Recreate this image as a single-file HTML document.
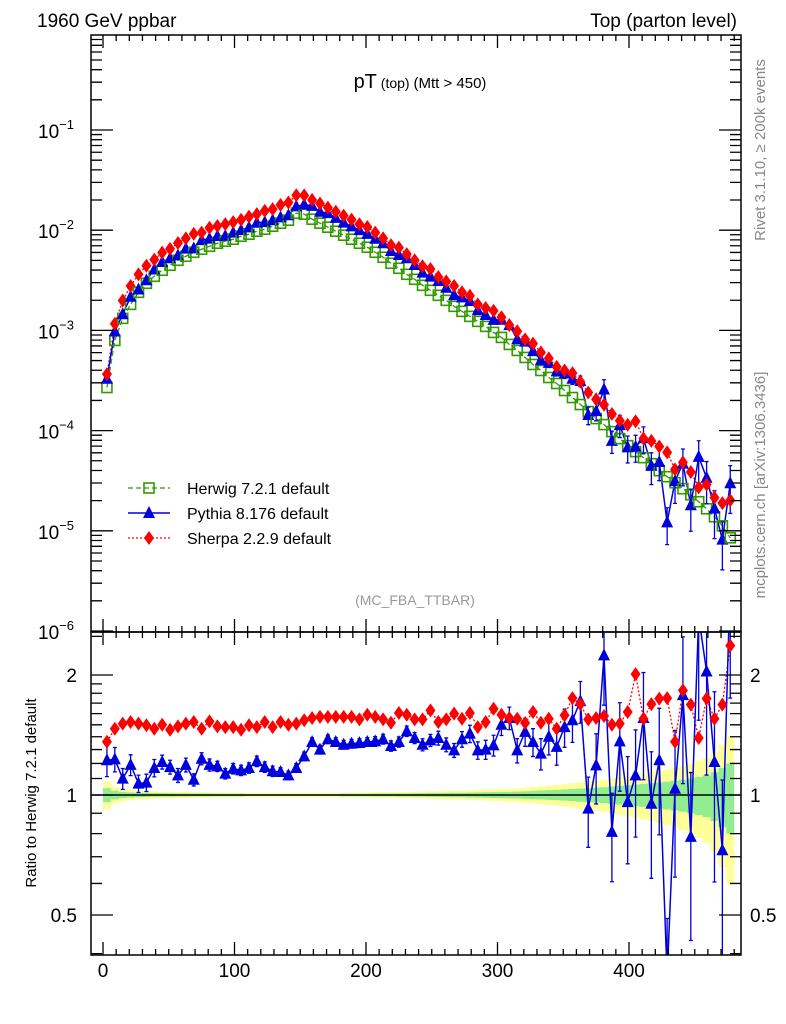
<!DOCTYPE html>
<html><head><meta charset="utf-8"><style>
body{margin:0;background:#fff;}
svg{display:block;font-family:"Liberation Sans",sans-serif;}
</style></head><body>
<svg id="chart" width="786" height="1024" viewBox="0 0 786 1024" xmlns="http://www.w3.org/2000/svg">
<defs>
<clipPath id="clipMain"><rect x="91" y="35" width="650" height="597"/></clipPath>
<clipPath id="clipRatio"><rect x="91" y="632" width="650" height="323"/></clipPath>
</defs>
<rect x="0" y="0" width="786" height="1024" fill="#fff"/>
<text x="37" y="27" font-size="19">1960 GeV ppbar</text>
<text x="737" y="27" font-size="19" text-anchor="end">Top (parton level)</text>
<text x="420" y="88" text-anchor="middle"><tspan font-size="20">pT</tspan><tspan font-size="14"> (top) </tspan><tspan font-size="15">(Mtt &gt; 450)</tspan></text>
<text transform="translate(765,150) rotate(-90)" font-size="15" fill="#888" text-anchor="middle">Rivet 3.1.10, ≥ 200k events</text>
<text transform="translate(765,485) rotate(-90)" font-size="15" fill="#888" text-anchor="middle">mcplots.cern.ch [arXiv:1306.3436]</text>
<text x="415" y="605" font-size="14" fill="#999" text-anchor="middle">(MC_FBA_TTBAR)</text>
<text transform="translate(36,793) rotate(-90)" font-size="15" text-anchor="middle">Ratio to Herwig 7.2.1 default</text>
<g id="ratioLayer" clip-path="url(#clipRatio)"></g>
<g id="mainLayer" clip-path="url(#clipMain)"></g>
<g id="axes"></g>
<g id="legend"></g>
</svg>
<script>
const xCenters = [3,9,15,21,27,33,39,45,51,57,63,69,75,81,87,93,99,105,111,117,123,129,135,141,147,153,159,165,171,177,183,189,195,201,207,213,219,225,231,237,243,249,255,261,267,273,279,285,291,297,303,309,315,321,327,333,339,345,351,357,363,369,375,381,387,393,399,405,411,417,423,429,435,441,447,453,459,465,471,477];
const herwigLog10 = [-3.57,-3.10,-2.88,-2.74,-2.62,-2.53,-2.46,-2.40,-2.35,-2.30,-2.26,-2.22,-2.19,-2.16,-2.13,-2.11,-2.09,-2.06,-2.04,-2.01,-1.99,-1.96,-1.93,-1.90,-1.83,-1.84,-1.89,-1.93,-1.97,-2.01,-2.05,-2.09,-2.13,-2.17,-2.22,-2.27,-2.33,-2.38,-2.44,-2.49,-2.55,-2.60,-2.65,-2.70,-2.76,-2.81,-2.86,-2.91,-2.96,-3.02,-3.07,-3.14,-3.20,-3.27,-3.34,-3.40,-3.47,-3.53,-3.60,-3.67,-3.74,-3.81,-3.88,-3.94,-4.01,-4.08,-4.15,-4.21,-4.27,-4.33,-4.40,-4.46,-4.52,-4.58,-4.64,-4.71,-4.78,-4.86,-4.95,-5.07];
const herwigRelErr = [0.04,0.025,0.018,0.015,0.013,0.012,0.011,0.01,0.01,0.009,0.009,0.008,0.008,0.008,0.007,0.007,0.007,0.007,0.006,0.006,0.006,0.006,0.006,0.006,0.006,0.006,0.006,0.006,0.006,0.006,0.007,0.007,0.007,0.007,0.008,0.008,0.008,0.009,0.009,0.01,0.01,0.011,0.011,0.012,0.013,0.013,0.014,0.015,0.016,0.017,0.018,0.019,0.02,0.022,0.024,0.026,0.028,0.03,0.032,0.035,0.038,0.04,0.043,0.046,0.05,0.054,0.058,0.062,0.066,0.07,0.075,0.08,0.086,0.092,0.1,0.11,0.12,0.14,0.17,0.2];
const pythiaRatio = [1.222,1.229,1.099,1.19,1.068,1.074,1.169,1.21,1.175,1.12,1.19,1.092,1.233,1.19,1.18,1.131,1.164,1.153,1.169,1.215,1.175,1.147,1.142,1.12,1.169,1.25,1.358,1.30,1.38,1.358,1.337,1.345,1.35,1.358,1.363,1.38,1.327,1.358,1.445,1.39,1.337,1.371,1.39,1.337,1.294,1.38,1.425,1.294,1.30,1.332,1.50,1.56,1.294,1.44,1.358,1.27,1.40,1.32,1.48,1.54,1.72,0.924,1.187,2.24,0.808,1.363,0.96,1.12,1.56,0.951,1.222,0.35,1.037,1.78,0.785,2.8,2.04,1.21,0.727,3.5];
const pythiaRelErr = [0.09,0.07,0.06,0.06,0.05,0.05,0.05,0.04,0.04,0.04,0.04,0.035,0.035,0.035,0.03,0.03,0.03,0.03,0.03,0.03,0.03,0.03,0.025,0.025,0.025,0.025,0.025,0.025,0.025,0.025,0.025,0.025,0.025,0.025,0.028,0.028,0.03,0.03,0.03,0.032,0.035,0.035,0.04,0.04,0.04,0.045,0.05,0.05,0.055,0.06,0.06,0.065,0.07,0.08,0.08,0.09,0.1,0.1,0.11,0.12,0.12,0.2,0.2,0.25,0.25,0.25,0.3,0.3,0.3,0.35,0.35,0.4,0.4,0.4,0.45,0.45,0.45,0.5,0.5,0.5];
const sherpaRatio = [1.36,1.466,1.51,1.524,1.51,1.496,1.466,1.50,1.458,1.486,1.51,1.524,1.466,1.53,1.486,1.48,1.48,1.458,1.496,1.48,1.524,1.48,1.524,1.50,1.51,1.54,1.56,1.57,1.57,1.57,1.57,1.57,1.548,1.59,1.57,1.548,1.518,1.606,1.59,1.548,1.548,1.63,1.524,1.548,1.60,1.553,1.606,1.48,1.524,1.646,1.59,1.56,1.553,1.516,1.615,1.518,1.553,1.466,1.585,1.75,1.69,1.548,1.56,1.578,1.50,1.51,1.615,2.01,1.553,1.69,1.745,1.75,1.36,1.83,1.685,1.39,1.745,1.553,1.685,2.37];
const xTicks = [0,100,200,300,400];
const mainDecades = [-1,-2,-3,-4,-5,-6];
const ratioTickLabels = [2,1,0.5];

const NS = "http://www.w3.org/2000/svg";
function X(v){ return 103 + v*1.315; }
function YM(lg){ return 130 - 100.2*(lg+1); }
function YR(r){ return 795 - 398.7*Math.log10(r); }
function mk(tag, attrs, parent){ const e=document.createElementNS(NS,tag); for(const k in attrs) e.setAttribute(k,attrs[k]); parent.appendChild(e); return e; }
const mainL=document.getElementById('mainLayer'), ratioL=document.getElementById('ratioLayer'), axes=document.getElementById('axes'), legend=document.getElementById('legend');

// ratio bands
function band(mult, color, name){
  let up='', dn='';
  for(let i=0;i<xCenters.length;i++){
    const a=X(xCenters[i]-3), b=X(xCenters[i]+3), e=herwigRelErr[i]*mult;
    up += `${a},${YR(1+e)} ${b},${YR(1+e)} `;
    dn = `${b},${YR(Math.max(1-e,0.05))} ${a},${YR(Math.max(1-e,0.05))} ` + dn;
  }
  const p=mk('polygon',{points:up+dn,fill:color},ratioL);
  
  
}
band(2,'#ffff99','herwig-band-total');
band(1,'#90ee90','herwig-band-stat');
const one=mk('line',{x1:91,x2:741,y1:795,y2:795,stroke:'#000','stroke-width':1.5},ratioL);



function tri(x,y,g){ return mk('polygon',{points:`${x},${y-7} ${x-6},${y+5} ${x+6},${y+5}`,fill:'#0000dd'},g); }
function dia(x,y,g){ return mk('polygon',{points:`${x},${y-7} ${x+5},${y} ${x},${y+7} ${x-5},${y}`,fill:'#ff0000'},g); }
function sq(x,y,g){ return mk('rect',{x:x-5,y:y-5,width:10,height:10,fill:'none',stroke:'#339900','stroke-width':1.6},g); }

// ratio series
let pr='', sr='';
xCenters.forEach((c,i)=>{ pr+=`${X(c)},${YR(pythiaRatio[i])} `; sr+=`${X(c)},${YR(sherpaRatio[i])} `; });
const sLineR=mk('polyline',{points:sr,fill:'none',stroke:'#ff0000','stroke-width':1.3,'stroke-dasharray':'2,2'},ratioL);


const pLineR=mk('polyline',{points:pr,fill:'none',stroke:'#0000dd','stroke-width':1.5},ratioL);


xCenters.forEach((c,i)=>{
  const x=X(c), r=pythiaRatio[i], e=pythiaRelErr[i]*r;
  const y1=YR(r+e), y2=YR(Math.max(r-e,0.05));
  const eb=mk('path',{d:`M${x},${y1}V${y2}M${x-2},${y1}H${x+2}M${x-2},${y2}H${x+2}`,stroke:'#0000dd','stroke-width':1.3,fill:'none'},ratioL);
  
  
  const t=tri(x,YR(r),ratioL);
  
  
  const d=dia(x,YR(sherpaRatio[i]),ratioL);
  
  
});

// main series
let hp='', pp='', sp='';
xCenters.forEach((c,i)=>{
  const h=herwigLog10[i];
  hp+=`${X(c)},${YM(h)} `;
  pp+=`${X(c)},${YM(h+Math.log10(pythiaRatio[i]))} `;
  sp+=`${X(c)},${YM(h+Math.log10(sherpaRatio[i]))} `;
});
const hl=mk('polyline',{points:hp,fill:'none',stroke:'#339900','stroke-width':1.3,'stroke-dasharray':'5,3'},mainL);


const sl=mk('polyline',{points:sp,fill:'none',stroke:'#ff0000','stroke-width':1.3,'stroke-dasharray':'2,2'},mainL);


const pl=mk('polyline',{points:pp,fill:'none',stroke:'#0000dd','stroke-width':1.5},mainL);


xCenters.forEach((c,i)=>{
  const x=X(c), h=herwigLog10[i];
  const s=sq(x,YM(h),mainL);
  
  
  const pv=Math.pow(10,h)*pythiaRatio[i], pe=pv*pythiaRelErr[i];
  const y1=YM(Math.log10(pv+pe)), y2=YM(Math.log10(Math.max(pv-pe,1e-8)));
  const eb=mk('path',{d:`M${x},${y1}V${y2}M${x-2},${y1}H${x+2}M${x-2},${y2}H${x+2}`,stroke:'#0000dd','stroke-width':1.3,fill:'none'},mainL);
  
  
  const t=tri(x,YM(Math.log10(pv)),mainL);
  
  
  const d=dia(x,YM(h+Math.log10(sherpaRatio[i])),mainL);
  
  
});

// frames
const f1=mk('rect',{x:91,y:35,width:650,height:597,fill:'none',stroke:'#000','stroke-width':1.5},axes);


const f2=mk('rect',{x:91,y:632,width:650,height:323,fill:'none',stroke:'#000','stroke-width':1.5},axes);



let tk='';
// x ticks
for(let v=-10; v<=480; v+=10){
  const x=X(v); if(x<92||x>740) continue;
  const L = (v%100===0)?13:6;
  tk+=`M${x},35v${L}M${x},632v${-L}M${x},632v${L}M${x},955v${-L}`;
}
// main y ticks
for(let d=-6; d<=-1; d++){
  for(let m=1;m<=9;m++){
    const y=YM(d+Math.log10(m)); if(y<35||y>632) continue;
    const L=(m===1)?22:11;
    tk+=`M91,${y}h${L}M741,${y}h${-L}`;
  }
}
// ratio y ticks
[0.4,0.5,0.6,0.7,0.8,0.9,1,1.1,1.2,1.3,1.4,1.5,1.6,1.7,1.8,1.9,2,2.5].forEach(r=>{
  const y=YR(r); if(y<632||y>955) return;
  const L=(r===1||r===2||r===0.5)?22:11;
  tk+=`M91,${y}h${L}M741,${y}h${-L}`;
});
const tp=mk('path',{d:tk,stroke:'#000','stroke-width':1.3,fill:'none'},axes);



xTicks.forEach(v=>{
  const t=mk('text',{x:X(v),y:977,'font-size':19,'text-anchor':'middle'},axes); t.textContent=v;
  
  
});
mainDecades.forEach(d=>{
  const t=mk('text',{x:38,y:YM(d)+8,'font-size':19},axes);
  t.innerHTML=`10<tspan dy="-9" font-size="13">−${-d}</tspan>`;
  
  
});
ratioTickLabels.forEach(r=>{
  const a=mk('text',{x:77,y:YR(r)+7,'font-size':19,'text-anchor':'end'},axes); a.textContent=r;
  
  
  const b=mk('text',{x:750,y:YR(r)+7,'font-size':19},axes); b.textContent=r;
  
  
});

// legend
const lg=[['Herwig 7.2.1 default',488,'h'],['Pythia 8.176 default',513,'p'],['Sherpa 2.2.9 default',538,'s']];
lg.forEach(e=>{
  const g=mk('g',{},legend);
  
  
  const y=e[1];
  if(e[2]==='h'){ mk('line',{x1:128,x2:170,y1:y,y2:y,stroke:'#339900','stroke-width':1.3,'stroke-dasharray':'5,3'},g); sq(149,y,g); }
  if(e[2]==='p'){ mk('line',{x1:128,x2:170,y1:y,y2:y,stroke:'#0000dd','stroke-width':1.5},g); tri(149,y,g); }
  if(e[2]==='s'){ mk('line',{x1:128,x2:170,y1:y,y2:y,stroke:'#ff0000','stroke-width':1.3,'stroke-dasharray':'2,2'},g); dia(149,y,g); }
  const t=mk('text',{x:187,y:y+6,'font-size':16},g); t.textContent=e[0];
});
</script>
</body></html>
